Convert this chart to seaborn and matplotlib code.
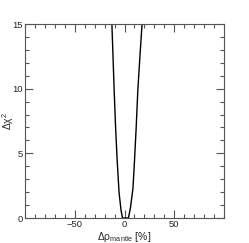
import matplotlib
matplotlib.use("Agg")
import matplotlib.pyplot as plt
from matplotlib.ticker import MultipleLocator
import seaborn as sns
import pandas as pd

# Data
delta_rho = [-12.8, -11.6, -10.4, -9.0, -7.4, -5.5, -3.5, -2.0, 1.0, 4.0, 6.0, 8.5, 10.1, 11.8, 13.4, 15.6, 17.9]
delta_chi2 = [15.3, 12.6, 9.9, 7.1, 4.5, 2.0, 0.6, 0.0, 0.0, 0.0, 0.8, 2.3, 4.5, 7.1, 9.9, 12.6, 15.3]
x_ticks = [-50, 0, 50]
y_ticks = [0, 5, 10, 15]

df = pd.DataFrame({"drho": delta_rho, "dchi2": delta_chi2})

sns.set_style("ticks")
plt.rcParams["font.family"] = ["Liberation Sans", "DejaVu Sans"]
plt.rcParams["mathtext.fontset"] = "custom"
plt.rcParams["mathtext.rm"] = "Liberation Sans"
plt.rcParams["mathtext.it"] = "Liberation Sans"

fig = plt.figure(figsize=(2.49, 2.43), dpi=100)
ax = fig.add_axes([25 / 249, 1 - 218 / 243, 199 / 249, 194 / 243])

sns.lineplot(data=df, x="drho", y="dchi2", ax=ax, color="black", lw=1.0,
             estimator=None, sort=False)

ax.set_xlim(-100, 100)
ax.set_ylim(0, 15)
ax.set_xticks(x_ticks)
ax.set_yticks(y_ticks)
ax.xaxis.set_minor_locator(MultipleLocator(10))
ax.yaxis.set_minor_locator(MultipleLocator(1))
ax.tick_params(which="both", direction="in", top=True, right=True,
               color="#555555", width=0.8, labelsize=6.8, pad=1.5)
ax.tick_params(which="major", length=5.8)
ax.tick_params(which="minor", length=2.9)
for s in ax.spines.values():
    s.set_color("#555555")
    s.set_linewidth(0.8)

ax.set_xlabel("Δρ$_{\\mathrm{mantle}}$ [%]", fontsize=7.5, labelpad=1)
ax.set_ylabel("Δχ$^{2}$", fontsize=7.5)
ax.yaxis.set_label_coords(-0.045, 0.5)

fig.savefig("out.png", dpi=100)
